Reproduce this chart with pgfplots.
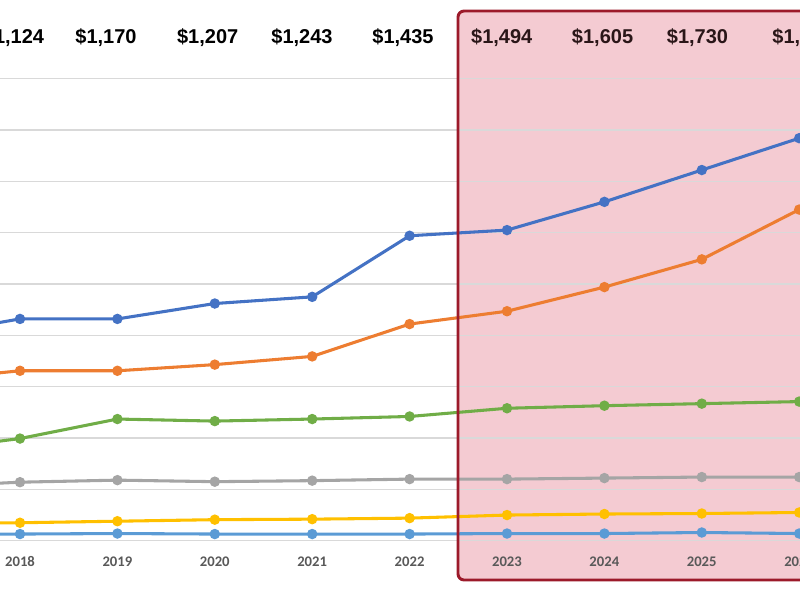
\documentclass[border=0pt]{standalone}
\usepackage{pgfplots}
\pgfplotsset{compat=1.18}
\usepackage{fontspec}
\setmainfont{Liberation Sans}
\newfontfamily\yearfont{Carlito}

\definecolor{cBlue}{HTML}{4472C4}
\definecolor{cOrange}{HTML}{ED7D31}
\definecolor{cGray}{HTML}{A5A5A5}
\definecolor{cYellow}{HTML}{FFC000}
\definecolor{cLightBlue}{HTML}{5B9BD5}
\definecolor{cGreen}{HTML}{70AD47}
\definecolor{gridgray}{HTML}{D9D9D9}
\definecolor{tickgray}{HTML}{595959}
\definecolor{forecastFill}{HTML}{F4CBD2}
\definecolor{forecastEdge}{HTML}{9C1A2A}
\definecolor{forecastText}{HTML}{2A1618}

\begin{document}
\begin{tikzpicture}[
  total/.style={anchor=base, inner sep=0pt, font=\bfseries\fontsize{15}{18}\selectfont}]
\begin{axis}[
  set layers=standard,
  x=73.05pt, y=0.38505pt,
  xmin=2016.5, xmax=2026.6,
  ymin=0, ymax=900,
  clip=false,
  separate axis lines,
  axis x line*=bottom,
  axis y line*=left,
  y axis line style={draw=none},
  x axis line style={draw=gridgray, line width=1.1pt},
  ytick={0,100,...,900},
  yticklabels={},
  ymajorgrids,
  major grid style={draw=gridgray, line width=1.1pt},
  tick style={draw=none},
  xtick={2018,2019,...,2026},
  xticklabel style={font=\yearfont\bfseries\fontsize{11}{13}\selectfont, text=tickgray, yshift=-8.3pt},
  /pgf/number format/1000 sep={},
  /pgf/number format/assume math mode=true,
  every axis plot/.append style={line width=2.3pt, mark=*, mark size=2.7pt},
]
  % forecast period backdrop
  \begin{pgfonlayer}{axis background}
    \fill[forecastFill, rounded corners=4.5pt]
      (axis cs:2022.497,-76.5) rectangle (axis cs:2027.2,1031.7);
  \end{pgfonlayer}

  \addplot[cBlue, mark options={fill=cBlue}] coordinates {
    (2017,399) (2018,432) (2019,432) (2020,462) (2021,475) (2022,594)
    (2023,605) (2024,660) (2025,722) (2026,784)};
  \addplot[cOrange, mark options={fill=cOrange}] coordinates {
    (2017,312) (2018,331) (2019,331) (2020,343) (2021,359) (2022,422)
    (2023,447) (2024,494) (2025,548) (2026,645)};
  \addplot[cGray, mark options={fill=cGray}] coordinates {
    (2017,105) (2018,114) (2019,118) (2020,115) (2021,117) (2022,120)
    (2023,120) (2024,122) (2025,124) (2026,124)};
  \addplot[cYellow, mark options={fill=cYellow}] coordinates {
    (2017,33) (2018,35) (2019,38) (2020,41) (2021,42) (2022,44)
    (2023,50) (2024,52) (2025,53) (2026,55)};
  \addplot[cLightBlue, mark options={fill=cLightBlue}] coordinates {
    (2017,12) (2018,13) (2019,14) (2020,13) (2021,13) (2022,13)
    (2023,14) (2024,14) (2025,16) (2026,14)};
  \addplot[cGreen, mark options={fill=cGreen}] coordinates {
    (2017,175) (2018,199) (2019,237) (2020,233) (2021,237) (2022,242)
    (2023,258) (2024,263) (2025,267) (2026,271)};

  % forecast period frame
  \draw[forecastEdge, line width=2.2pt, rounded corners=4.5pt]
    (axis cs:2027.2,-76.5) -- (axis cs:2022.497,-76.5)
    -- (axis cs:2022.497,1031.7) -- (axis cs:2027.2,1031.7);

  % yearly totals
  \node[total] at (axis cs:2017.933,969) {\$1,124};
  \node[total] at (axis cs:2018.883,969) {\$1,170};
  \node[total] at (axis cs:2019.927,969) {\$1,207};
  \node[total] at (axis cs:2020.895,969) {\$1,243};
  \node[total] at (axis cs:2021.932,969) {\$1,435};
  \node[total, text=forecastText] at (axis cs:2022.946,969) {\$1,494};
  \node[total, text=forecastText] at (axis cs:2023.981,969) {\$1,605};
  \node[total, text=forecastText] at (axis cs:2024.956,969) {\$1,730};
  \node[total, text=forecastText] at (axis cs:2026.039,969) {\$1,893};

  \coordinate (pageSW) at (axis cs:2017.7947,-115.5);
  \coordinate (pageNE) at (axis cs:2026.0082,1053.2);
\end{axis}
\pgfresetboundingbox
\useasboundingbox (pageSW) rectangle (pageNE);
\end{tikzpicture}
\end{document}
